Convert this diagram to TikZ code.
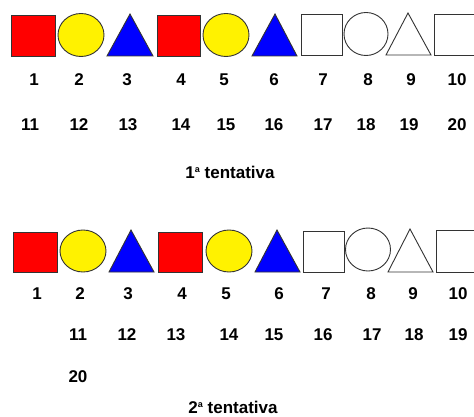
\documentclass[tikz,border=0pt]{standalone}
\usepackage{fontspec}
\setmainfont{Liberation Sans}
\begin{document}
\begin{tikzpicture}[x=1pt,y=-1pt,
  shp/.style={draw=black!80,line width=0.9pt,line join=miter},
  num/.style={font=\fontsize{17}{19}\selectfont\bfseries,inner sep=0pt,anchor=center},
  ttl/.style={font=\fontsize{17}{19}\selectfont\bfseries,inner sep=0pt,anchor=center}]
\useasboundingbox (0,0) rectangle (474,417);
\clip (0,0) rectangle (474,417);
% ---- row 1 shapes
\draw[shp,fill=red] (11,15) rectangle (55,56);
\draw[shp,fill=yellow] (81,35) ellipse [x radius=23,y radius=21.5];
\draw[shp,fill=blue] (107,56) -- (130,14) -- (153,56) -- cycle;
\draw[shp,fill=red] (157,15) rectangle (200,56);
\draw[shp,fill=yellow] (226,35) ellipse [x radius=23,y radius=21.5];
\draw[shp,fill=blue] (252,56) -- (275,14) -- (297,56) -- cycle;
\draw[shp,fill=white] (301,14) rectangle (342,55);
\draw[shp,fill=white] (366,34) ellipse [x radius=22,y radius=21.5];
\draw[shp,fill=white] (386,55) -- (408,13) -- (431,55) -- cycle;
\draw[shp,fill=white] (434,14) rectangle (480,55);
% ---- row 1 numbers
\foreach \n/\x in {1/34,2/79,3/127,4/181,5/224,6/274,7/323,8/368,9/411,10/457}
  \node[num] (a\n) at (\x,80) {\n};
\foreach \n/\x in {11/30,12/79,13/128,14/181,15/226,16/274,17/323,18/366,19/409,20/457}
  \node[num] (a\n) at (\x,125) {\n};
\node[ttl] (t1) at (230,172) {1\raisebox{0.35em}{\fontsize{9}{9}\selectfont a} tentativa};
% ---- row 2 shapes
\draw[shp,fill=red] (13,232) rectangle (57,272);
\draw[shp,fill=yellow] (83,251) ellipse [x radius=23,y radius=21];
\draw[shp,fill=blue] (109,272) -- (131,230) -- (154,272) -- cycle;
\draw[shp,fill=red] (158,232) rectangle (202,272);
\draw[shp,fill=yellow] (229,251) ellipse [x radius=23,y radius=21];
\draw[shp,fill=blue] (255,272) -- (277,230) -- (300,272) -- cycle;
\draw[shp,fill=white] (303,231) rectangle (344,272);
\draw[shp,fill=white] (368,249.5) ellipse [x radius=22.5,y radius=21.5];
\draw[shp,fill=white] (388,272) -- (410,229) -- (433,272) -- cycle;
\draw[shp,fill=white] (436,230) rectangle (480,272);
% ---- row 2 numbers
\foreach \n/\x in {1/37,2/80,3/128,4/182,5/226,6/279,7/326,8/371,9/413,10/458}
  \node[num] (b\n) at (\x,294) {\n};
\foreach \n/\x in {11/78,12/127,13/176,14/229,15/274,16/323,17/372,18/414,19/458}
  \node[num] (b\n) at (\x,335) {\n};
\node[num] (b20) at (78,377) {20};
\node[ttl] (t2) at (233,407) {2\raisebox{0.35em}{\fontsize{9}{9}\selectfont a} tentativa};
\end{tikzpicture}
\end{document}
